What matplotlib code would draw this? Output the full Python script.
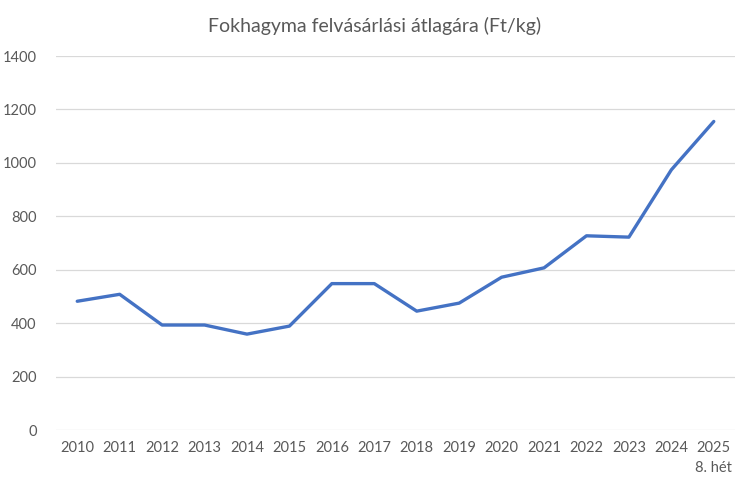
import matplotlib
matplotlib.use("Agg")
import matplotlib.pyplot as plt

years = ["2010", "2011", "2012", "2013", "2014", "2015", "2016", "2017",
         "2018", "2019", "2020", "2021", "2022", "2023", "2024", "2025\n8. hét"]
prices = [482, 508, 393, 393, 359, 389, 548, 548,
          445, 475, 572, 607, 727, 722, 974, 1155]
yticks = [0, 200, 400, 600, 800, 1000, 1200, 1400]

plt.rcParams['font.family'] = ['Lato', 'DejaVu Sans']

fig = plt.figure(figsize=(7.5, 4.87), dpi=100)
ax = fig.add_axes([0.0747, 0.117, 0.9053, 0.768])

x = list(range(len(years)))
ax.plot(x, prices, color="#4472C4", linewidth=2.4, solid_joinstyle="round", solid_capstyle="round", zorder=3)

ax.set_xlim(-0.5, len(years) - 0.5)
ax.set_ylim(0, 1400)
ax.set_yticks(yticks)
ax.set_xticks(x)
ax.set_xticklabels(years, fontsize=10.5, color="#595959", linespacing=1.5)
ax.set_yticklabels([str(v) for v in yticks], fontsize=10.5, color="#595959")
ax.tick_params(axis="both", length=0)
ax.tick_params(axis="x", pad=8)
ax.tick_params(axis="y", pad=14)
for lbl in ax.get_yticklabels():
    lbl.set_horizontalalignment("right")

ax.grid(axis="y", color="#D9D9D9", linewidth=0.9)
ax.set_axisbelow(True)
for s in ax.spines.values():
    s.set_visible(False)

fig.suptitle("Fokhagyma felvásárlási átlagára (Ft/kg)", fontsize=14, color="#595959", y=0.965)

fig.savefig("out.png", dpi=100)
